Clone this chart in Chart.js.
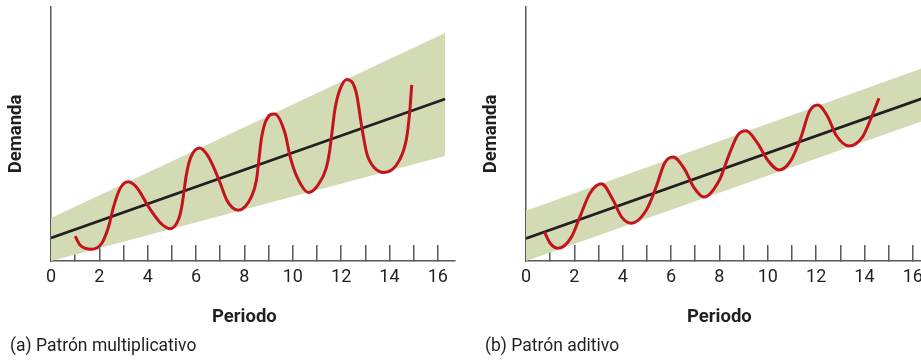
<!DOCTYPE html>
<html lang="es">
    <head>
        <meta charset="utf-8" />
        <title>Patrones de demanda</title>
        <script src="https://cdnjs.cloudflare.com/ajax/libs/Chart.js/4.4.0/chart.umd.js"></script>
        <style>
            body {
                margin: 0;
                width: 921px;
                height: 361px;
                overflow: hidden;
                background: #fff;
                position: relative;
                font-family: Roboto, "Liberation Sans", sans-serif;
                color: #231f20;
            }
            .panel {
                position: absolute;
                top: 0;
                width: 460px;
                height: 361px;
            }
            .caption {
                position: absolute;
                left: 10px;
                top: 334px;
                font-size: 17.5px;
                line-height: 22px;
                white-space: nowrap;
            }
        </style>
    </head>
    <body>
        <div class="panel" style="left: 0">
            <canvas id="chartA" width="460" height="361"></canvas>
            <div class="caption">(a) Patrón multiplicativo</div>
        </div>
        <div class="panel" style="left: 475px">
            <canvas id="chartB" width="460" height="361"></canvas>
            <div class="caption">(b) Patrón aditivo</div>
        </div>
        <script>
            // (a) patron multiplicativo
            const demandA_x = [1.0, 1.2, 1.68, 2.1, 2.38, 2.59, 2.86, 3.2, 3.42, 3.62, 4.03, 4.5, 4.75, 4.93, 5.28, 5.42, 5.5, 5.6, 5.78, 6.15, 6.45, 6.72, 7.0, 7.27, 7.5, 7.75, 8.3, 8.5, 8.6, 8.7, 8.88, 9.25, 9.68, 9.89, 10.17, 10.65, 11.05, 11.38, 11.52, 11.62, 11.75, 11.95, 12.24, 12.62, 12.85, 13.06, 13.4, 13.78, 14.4, 14.7, 14.83, 14.92];
            const demandA_y = [9.8, 6.3, 4.6, 7.0, 13.5, 21.4, 28.6, 31.2, 30.2, 28.0, 21.4, 15.3, 13.3, 12.7, 16.5, 22.0, 27.4, 34.0, 40.8, 44.5, 42.0, 37.1, 30.6, 24.0, 21.0, 20.0, 25.5, 32.0, 40.0, 48.0, 55.0, 57.9, 50.3, 41.1, 33.2, 27.0, 30.0, 36.5, 43.0, 50.5, 60.0, 67.5, 71.5, 66.5, 53.0, 42.4, 36.5, 34.8, 39.5, 48.0, 58.0, 69.3];
            const trendA_x = [0, 16.3];
            const trendA_y = [9.1, 63.8];
            const bandA_upper = [16.9, 89.8];
            const bandA_lower = [0, 41.3];

            // (b) patron aditivo
            const demandB_x = [0.76, 1.0, 1.33, 1.89, 2.23, 2.64, 3.12, 3.6, 3.95, 4.36, 4.98, 5.39, 5.73, 6.08, 6.58, 6.92, 7.36, 8.0, 8.42, 8.76, 9.1, 9.58, 9.99, 10.48, 10.97, 11.38, 11.72, 12.07, 12.48, 12.82, 13.36, 13.92, 14.27, 14.6];
            const demandB_y = [11.5, 7.0, 5.0, 9.6, 17.4, 26.6, 30.4, 24.0, 17.4, 14.9, 20.1, 29.3, 38.5, 40.9, 35.8, 29.3, 25.2, 31.9, 42.4, 49.6, 51.3, 46.3, 39.8, 35.8, 39.8, 48.9, 58.8, 61.4, 56.8, 49.6, 45.3, 48.9, 56.2, 64.1];
            const trendB_x = [0, 16.7];
            const trendB_y = [8.9, 65.0];
            const bandB_upper = [19.8, 77.0];
            const bandB_lower = [0, 56.1];

            const periodTicks = { min: 0, max: 16.71, step: 1 };
            const xTitle = 'Periodo';
            const yTitle = 'Demanda';

            const face = 'Roboto, "Liberation Sans", sans-serif';
            const ink = '#231f20';
            const axisGrey = '#58595b';

            function pts(xs, ys) {
                return xs.map(function(x, i) { return { x: x, y: ys[i] }; });
            }

            // x axis title, centred under the 0..16 range like the original
            const periodLabel = {
                id: 'periodLabel',
                afterDraw(chart) {
                    const x = chart.scales.x;
                    const ctx = chart.ctx;
                    ctx.save();
                    ctx.font = 'bold 18.5px ' + face;
                    ctx.fillStyle = ink;
                    ctx.textAlign = 'center';
                    ctx.textBaseline = 'middle';
                    ctx.fillText(xTitle, x.getPixelForValue(8), x.top + 56);
                    ctx.restore();
                }
            };

            function makeChart(id, dx, dy, tx, ty, upper, lower) {
                return new Chart(id, {
                    type: 'line',
                    data: {
                        datasets: [{
                            data: pts(dx, dy),
                            borderColor: '#c4121f',
                            borderWidth: 3,
                            pointRadius: 0,
                            cubicInterpolationMode: 'monotone',
                            fill: false
                        }, {
                            data: pts(tx, ty),
                            borderColor: ink,
                            borderWidth: 2.8,
                            pointRadius: 0,
                            tension: 0,
                            fill: false
                        }, {
                            data: pts(tx, lower),
                            borderWidth: 0,
                            pointRadius: 0,
                            fill: false
                        }, {
                            data: pts(tx, upper),
                            borderWidth: 0,
                            pointRadius: 0,
                            backgroundColor: '#d3dbb4',
                            fill: 2
                        }]
                    },
                    options: {
                        responsive: false,
                        animation: false,
                        layout: { padding: { top: 7, right: 5, left: 0, bottom: 0 } },
                        plugins: {
                            legend: { display: false },
                            tooltip: { enabled: false }
                        },
                        scales: {
                            x: {
                                type: 'linear',
                                min: periodTicks.min,
                                max: periodTicks.max,
                                border: { display: true, color: axisGrey, width: 1.5 },
                                grid: {
                                    drawOnChartArea: false,
                                    drawTicks: true,
                                    tickLength: -16,
                                    color: axisGrey,
                                    lineWidth: 1.5
                                },
                                ticks: {
                                    stepSize: periodTicks.step,
                                    includeBounds: false,
                                    maxRotation: 0,
                                    autoSkip: false,
                                    padding: 22,
                                    color: ink,
                                    font: { family: face, size: 18 },
                                    callback: function(v) { return v % 2 === 0 ? v : ''; }
                                },
                                afterFit: function(scale) {
                                    scale.height = 100;
                                    scale.paddingLeft = 0;
                                    scale.paddingRight = 0;
                                }
                            },
                            y: {
                                type: 'linear',
                                min: 0,
                                max: 100,
                                border: { display: true, color: axisGrey, width: 1.5 },
                                grid: { display: false },
                                ticks: { display: false },
                                title: {
                                    display: true,
                                    text: yTitle,
                                    color: ink,
                                    font: { family: face, size: 18.5, weight: 'bold' },
                                    padding: { top: 5, bottom: 0 }
                                },
                                afterFit: function(scale) { scale.width = 51; }
                            }
                        }
                    },
                    plugins: [periodLabel]
                });
            }

            makeChart('chartA', demandA_x, demandA_y, trendA_x, trendA_y, bandA_upper, bandA_lower);
            makeChart('chartB', demandB_x, demandB_y, trendB_x, trendB_y, bandB_upper, bandB_lower);
        </script>
    </body>
</html>
